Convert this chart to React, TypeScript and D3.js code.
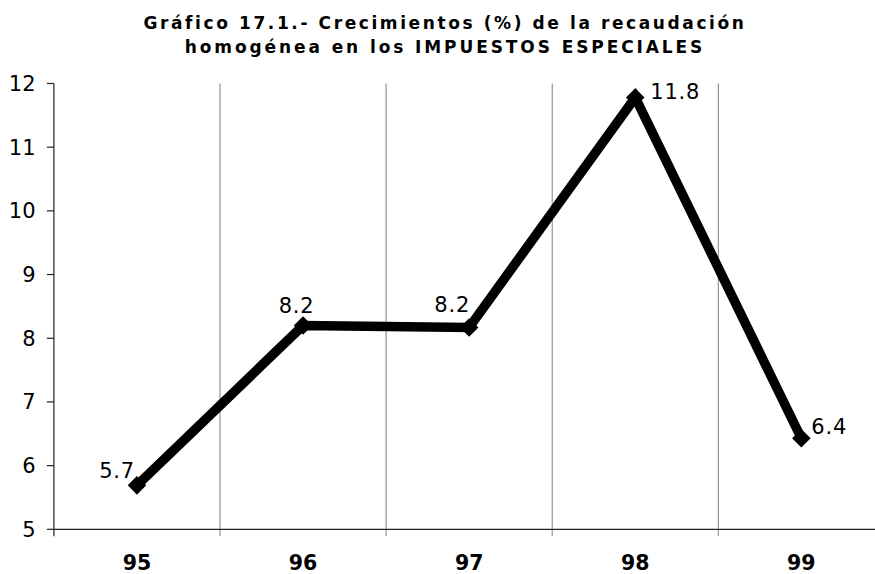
import React from "react";
import * as d3 from "d3";

const categories = ["95", "96", "97", "98", "99"];
const values = [5.69, 8.2, 8.17, 11.78, 6.43];
const labels = ["5.7", "8.2", "8.2", "11.8", "6.4"];
const yTicks = [5, 6, 7, 8, 9, 10, 11, 12];
const titleLines = [
  "Gráfico 17.1.- Crecimientos (%) de la recaudación",
  "homogénea en los IMPUESTOS ESPECIALES",
];
const titleSpacing = [2.6, 2.9];
// label placement per point: [dx, dy, anchor]
const labelPlace: [number, number, string][] = [
  [-2, -7, "end"],
  [-6.5, -13, "middle"],
  [1, -15, "end"],
  [15, 1.5, "start"],
  [10, -4, "start"],
];

const W = 875;
const H = 574;
const left = 53.9;
const bandW = 166.1;
const font = "Verdana, 'DejaVu Sans', sans-serif";

export default function App() {
  const x = d3
    .scaleBand<string>()
    .domain(categories)
    .range([left, left + bandW * categories.length])
    .paddingInner(0)
    .paddingOuter(0);
  const y = d3.scaleLinear().domain([5, 12]).range([529.3, 83.5]);
  const cx = (c: string) => (x(c) as number) + x.bandwidth() / 2;
  const line = d3
    .line<number>()
    .x((_, i) => cx(categories[i]))
    .y((v) => y(v));
  const diamond = d3.symbol().type(d3.symbolDiamond2).size(220);
  const baseY = y(5);
  return (
    <svg
      width={W}
      height={H}
      style={{ position: "absolute", left: 0, top: 0, background: "#fff" }}
      fontFamily={font}
    >
      {titleLines.map((t, i) => (
        <text
          key={i}
          x={445}
          y={28.7 + i * 23.8}
          textAnchor="middle"
          fontWeight="bold"
          fontSize={17}
          letterSpacing={titleSpacing[i]}
          fill="#000"
        >
          {t}
        </text>
      ))}
      {categories.slice(1).map((c) => (
        <line
          key={c}
          x1={x(c)}
          x2={x(c)}
          y1={y(12)}
          y2={baseY + 7}
          stroke="#808080"
          strokeWidth={1}
        />
      ))}
      <line x1={left} x2={W} y1={baseY} y2={baseY} stroke="#222" strokeWidth={1.2} />
      <line x1={left} x2={left} y1={y(12)} y2={baseY + 7} stroke="#222" strokeWidth={1.2} />
      {yTicks.map((t) => (
        <g key={t}>
          <line x1={left - 7} x2={left} y1={y(t)} y2={y(t)} stroke="#222" strokeWidth={1.2} />
          <text x={35.5} y={y(t)} dy="0.36em" textAnchor="end" fontSize={21} fill="#000">
            {t}
          </text>
        </g>
      ))}
      {categories.map((c) => (
        <text
          key={c}
          x={cx(c)}
          y={569.5}
          textAnchor="middle"
          fontWeight="bold"
          fontSize={20.5}
          fill="#000"
        >
          {c}
        </text>
      ))}
      <path
        d={line(values) || ""}
        fill="none"
        stroke="#000"
        strokeWidth={9.5}
        strokeLinejoin="miter"
      />
      {values.map((v, i) => (
        <path
          key={i}
          d={diamond() || ""}
          transform={`translate(${cx(categories[i])},${y(v)})`}
          fill="#000"
        />
      ))}
      {values.map((v, i) => (
        <text
          key={i}
          x={cx(categories[i]) + labelPlace[i][0]}
          y={y(v) + labelPlace[i][1]}
          textAnchor={labelPlace[i][2] as any}
          fontSize={21}
          letterSpacing={0.8}
          fill="#000"
        >
          {labels[i]}
        </text>
      ))}
    </svg>
  );
}
